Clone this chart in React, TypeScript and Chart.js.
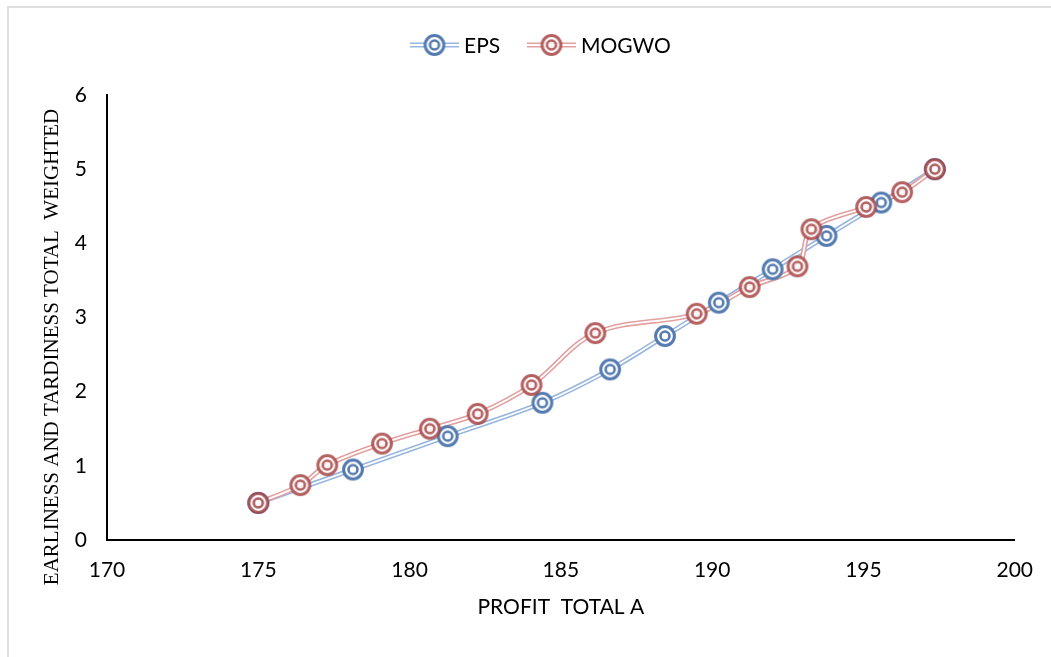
import React, { useEffect, useRef } from "react";
import { Chart, registerables } from "chart.js";

Chart.register(...registerables);

// ---- data ----
const seriesNames = ["EPS", "MOGWO"];
const epsX = [175.0, 178.13, 181.26, 184.39, 186.63, 188.44, 190.22, 192.0, 193.78, 195.59, 197.36];
const epsY = [0.5, 0.95, 1.4, 1.85, 2.3, 2.75, 3.2, 3.65, 4.1, 4.55, 5.0];
const mogwoX = [175.0, 176.39, 177.28, 179.09, 180.67, 182.25, 184.03, 186.14, 189.49, 191.24, 192.82, 193.28, 195.09, 196.28, 197.36];
const mogwoY = [0.5, 0.74, 1.01, 1.3, 1.5, 1.7, 2.09, 2.79, 3.05, 3.41, 3.69, 4.19, 4.49, 4.69, 5.0];
const xMin = 170;
const xMax = 200;
const xStep = 5;
const yMin = 0;
const yMax = 6;
const yStep = 1;
const xTitle = "PROFIT  TOTAL A";
const yTitle = "EARLINESS AND TARDINESS TOTAL  WEIGHTED";

// ---- styles ----
const EPS_LINE = "rgb(152,182,222)";
const EPS_MARK = "rgb(84,123,176)";
const MOG_LINE = "rgb(226,160,160)";
const MOG_MARK = "rgb(165,62,62)";
const SANS = "Lato, 'Noto Sans', sans-serif";
const SERIF = "'Liberation Serif', 'DejaVu Serif', serif";

function makeMarker(color: string, alpha: number): HTMLCanvasElement {
  const c = document.createElement("canvas");
  c.width = 28;
  c.height = 28;
  const ctx = c.getContext("2d")!;
  ctx.globalAlpha = alpha;
  ctx.fillStyle = "#ffffff";
  ctx.beginPath();
  ctx.arc(14, 14, 9.6, 0, Math.PI * 2);
  ctx.fill();
  ctx.strokeStyle = color;
  ctx.lineWidth = 3;
  ctx.beginPath();
  ctx.arc(14, 14, 9.4, 0, Math.PI * 2);
  ctx.stroke();
  ctx.lineWidth = 2.6;
  ctx.beginPath();
  ctx.arc(14, 14, 4.5, 0, Math.PI * 2);
  ctx.stroke();
  return c;
}

function toPoints(xs: number[], ys: number[]) {
  return xs.map((x, i) => ({ x, y: ys[i] }));
}

export default function App() {
  const ref = useRef<HTMLCanvasElement | null>(null);

  useEffect(() => {
    if (!ref.current) return;
    const epsMarker = makeMarker(EPS_MARK, 1);
    const mogMarker = makeMarker(MOG_MARK, 0.82);
    const eps = toPoints(epsX, epsY);
    const mog = toPoints(mogwoX, mogwoY);
    const tension = 0.35;

    const lineDs = (label: string, data: any[], color: string, width: number, order: number) => ({
      label,
      data,
      showLine: true,
      borderColor: color,
      borderWidth: width,
      pointRadius: 0,
      tension,
      order,
      fill: false,
    });
    const markDs = (label: string, data: any[], marker: HTMLCanvasElement, order: number) => ({
      label,
      data,
      showLine: false,
      pointStyle: marker,
      pointRadius: 10,
      order,
    });

    const overlay = {
      id: "overlay",
      afterDraw(chart: any) {
        const ctx = chart.ctx as CanvasRenderingContext2D;
        ctx.save();
        // y title
        ctx.translate(52, 347);
        ctx.rotate(-Math.PI / 2);
        ctx.font = `21px ${SERIF}`;
        ctx.fillStyle = "#000";
        ctx.textAlign = "center";
        ctx.textBaseline = "middle";
        ctx.fillText(yTitle, 0, 0);
        ctx.restore();

        ctx.save();
        ctx.font = `21px ${SANS}`;
        ctx.fillStyle = "#000";
        ctx.textAlign = "center";
        ctx.textBaseline = "middle";
        const ca = chart.chartArea;
        ctx.fillText(xTitle, (ca.left + ca.right) / 2, 607);
        ctx.restore();

        // legend
        const items = [
          { name: seriesNames[0], line: EPS_LINE, marker: epsMarker, x0: 410 },
          { name: seriesNames[1], line: MOG_LINE, marker: mogMarker, x0: 527 },
        ];
        const ly = 45;
        items.forEach((it) => {
          ctx.save();
          ctx.strokeStyle = it.line;
          ctx.lineWidth = 5;
          ctx.beginPath();
          ctx.moveTo(it.x0, ly);
          ctx.lineTo(it.x0 + 49, ly);
          ctx.stroke();
          ctx.strokeStyle = "#fff";
          ctx.lineWidth = 1.8;
          ctx.beginPath();
          ctx.moveTo(it.x0, ly);
          ctx.lineTo(it.x0 + 49, ly);
          ctx.stroke();
          ctx.drawImage(it.marker, it.x0 + 24.5 - 14, ly - 14);
          ctx.font = `21px ${SANS}`;
          ctx.fillStyle = "#000";
          ctx.textAlign = "left";
          ctx.textBaseline = "middle";
          ctx.fillText(it.name, it.x0 + 54, ly + 1);
          ctx.restore();
        });
      },
    };

    const chart = new Chart(ref.current, {
      type: "scatter",
      data: {
        datasets: [
          markDs(seriesNames[1], mog, mogMarker, 1),
          markDs(seriesNames[0], eps, epsMarker, 2),
          lineDs(seriesNames[1], mog, "#ffffff", 1.8, 3),
          lineDs(seriesNames[1], mog, MOG_LINE, 5, 4),
          lineDs(seriesNames[0], eps, "#ffffff", 1.8, 5),
          lineDs(seriesNames[0], eps, EPS_LINE, 5, 6),
        ] as any,
      },
      options: {
        responsive: false,
        animation: false,
        devicePixelRatio: 1,
        layout: { padding: { top: 95, right: 33, left: 0, bottom: 0 } },
        plugins: {
          legend: { display: false },
          tooltip: { enabled: false },
          title: { display: false },
        },
        scales: {
          x: {
            type: "linear",
            min: xMin,
            max: xMax,
            ticks: {
              stepSize: xStep,
              font: { family: SANS, size: 21 },
              color: "#000",
              padding: 18,
              maxRotation: 0,
            },
            grid: { display: false, drawTicks: false },
            border: { display: true, color: "#000", width: 2 },
            afterFit: (s: any) => {
              s.height = 657 - 540;
            },
          },
          y: {
            type: "linear",
            min: yMin,
            max: yMax,
            ticks: {
              stepSize: yStep,
              font: { family: SANS, size: 21 },
              color: "#000",
              padding: 20,
            },
            grid: { display: false, drawTicks: false },
            border: { display: true, color: "#000", width: 2 },
            afterFit: (s: any) => {
              s.width = 107;
            },
          },
        },
      } as any,
      plugins: [overlay],
    });
    return () => chart.destroy();
  }, []);

  return (
    <>
      <div
        style={{
          position: "fixed",
          left: 7,
          top: 6,
          right: -20,
          bottom: -20,
          borderLeft: "2px solid #dedede",
          borderTop: "2px solid #dedede",
          pointerEvents: "none",
        }}
      />
      <canvas
        ref={ref}
        width={1051}
        height={657}
        style={{ position: "fixed", left: 0, top: 0, width: 1051, height: 657 }}
      />
    </>
  );
}
